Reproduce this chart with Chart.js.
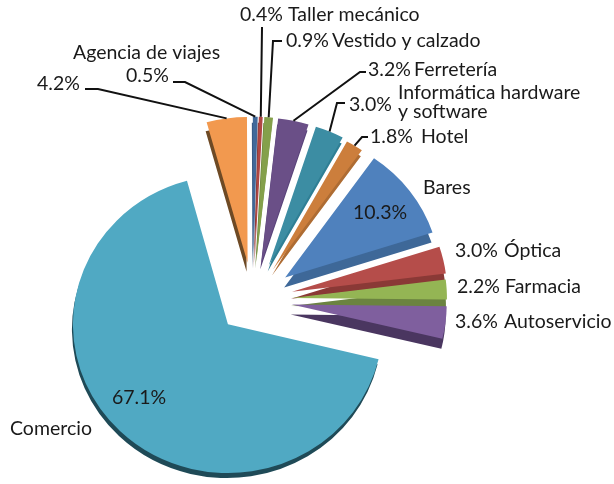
<!DOCTYPE html>
<html>
<head>
<meta charset="utf-8">
<style>
  html, body { margin: 0; padding: 0; background: #fff; }
  canvas { display: block; }
</style>
<script src="https://cdn.jsdelivr.net/npm/chart.js@4"></script>
</head>
<body>
<canvas id="pie" width="614" height="484"></canvas>
<script>
// clockwise from the right edge of Comercio
const categories = ['Comercio', '', 'Agencia de viajes', 'Taller mecánico', 'Vestido y calzado', 'Ferretería',
  'Informática hardware', 'Hotel', 'Bares', 'Óptica', 'Farmacia', 'Autoservicio'];
const shares = [67.1, 4.2, 0.5, 0.4, 0.9, 3.2, 3.0, 1.8, 10.3, 3.0, 2.2, 3.6];

const faceColors = ['#50a9c3', '#f2994f', '#41699a', '#b04643', '#84a04b', '#6a4f87',
  '#3c8da3', '#cc7e3c', '#4f81bd', '#b54d4a', '#94b554', '#7f5f9e'];
const sideColors = ['#1f4a57', '#6e4a25', '#375a85', '#8a3936', '#6b833e', '#59437a',
  '#2f7f95', '#ae6c33', '#3e6898', '#8a3936', '#6b8340', '#4a3660'];
// per slice layout: pull-out in px, thickness in px, vertical squash
const sliceShifts = [36, 40, 40, 40, 40, 40, 40, 38, 40, 40, 39, 39];
const sliceDepths = [5, 9, 6, 6, 6, 6, 6, 6, 10, 7, 8, 10];
const sliceTilts = [0.96, 0.94, 0.94, 0.94, 0.94, 0.94, 0.94, 0.94, 0.94, 0.94, 0.94, 0.94];

const pieRadius = 155;
const baseTilt = 0.94;
const textColor = '#1a1a1a';

// text: [string, x, y]
const textBits = [
  [shares[3].toFixed(1) + '%', 240, 15], [categories[3], 288, 15],
  [shares[4].toFixed(1) + '%', 286, 41], [categories[4], 332, 41],
  [shares[5].toFixed(1) + '%', 368, 70], [categories[5], 414, 70],
  [shares[6].toFixed(1) + '%', 349, 105], [categories[6], 398, 93], ['y software', 398, 112],
  [shares[7].toFixed(1) + '%', 370, 137], [categories[7], 421, 137],
  [categories[8], 423, 188], [shares[8].toFixed(1) + '%', 353, 213],
  [shares[9].toFixed(1) + '%', 455, 251], [categories[9], 504, 251],
  [shares[10].toFixed(1) + '%', 457, 287], [categories[10], 505, 287],
  [shares[11].toFixed(1) + '%', 455, 322], [categories[11], 504, 322],
  [shares[0].toFixed(1) + '%', 112, 398], [categories[0], 10, 429],
  [categories[2], 73, 53], [shares[2].toFixed(1) + '%', 126, 76],
  [shares[1].toFixed(1) + '%', 37, 84]
];

// slice index: leader start and elbow, the far end comes from the arc itself
const leaders = {
  1: [[85, 89], [98, 89]],
  2: [[173, 82], [185, 82]],
  3: [[262, 27], [262, 28]],
  4: [[282, 41], [273, 41]],
  5: [[366, 72], [360, 72]],
  6: [[345, 103], [337, 103]],
  7: [[368, 137], [362, 137]]
};

function squash(ctx, arc, i) {
  ctx.translate(0, arc.y);
  ctx.scale(1, sliceTilts[i]);
  ctx.translate(0, -arc.y);
}

const pie3d = {
  id: 'pie3d',
  afterDatasetsUpdate(chart) {
    // the offset option also trims small slices, so explode them by hand
    chart.getDatasetMeta(0).data.forEach((arc, i) => {
      const mid = (arc.startAngle + arc.endAngle) / 2;
      arc.x += Math.cos(mid) * sliceShifts[i];
      arc.y += Math.sin(mid) * sliceShifts[i] * baseTilt;
    });
  },
  beforeDatasetDraw(chart) {
    const ctx = chart.ctx;
    const arcs = chart.getDatasetMeta(0).data;
    // darker copies underneath give the thickness
    arcs.forEach((arc, i) => {
      const saved = arc.options;
      arc.options = Object.assign({}, saved, { backgroundColor: sideColors[i] });
      ctx.save();
      ctx.translate(-1, sliceDepths[i]);
      squash(ctx, arc, i);
      arc.draw(ctx);
      ctx.restore();
      arc.options = saved;
    });
    arcs.forEach((arc, i) => {
      ctx.save();
      squash(ctx, arc, i);
      arc.draw(ctx);
      ctx.restore();
    });
    return false;
  },
  afterDatasetsDraw(chart) {
    const ctx = chart.ctx;
    const arcs = chart.getDatasetMeta(0).data;
    ctx.save();
    ctx.strokeStyle = '#111';
    ctx.lineWidth = 2;
    Object.keys(leaders).forEach(k => {
      const arc = arcs[k];
      const mid = (arc.startAngle + arc.endAngle) / 2;
      const ex = arc.x + Math.cos(mid) * pieRadius;
      const ey = arc.y + Math.sin(mid) * pieRadius * sliceTilts[k];
      ctx.beginPath();
      ctx.moveTo(leaders[k][0][0], leaders[k][0][1]);
      ctx.lineTo(leaders[k][1][0], leaders[k][1][1]);
      ctx.lineTo(ex, ey);
      ctx.stroke();
    });
    ctx.fillStyle = textColor;
    ctx.font = '19.5px Lato';
    ctx.textAlign = 'left';
    ctx.textBaseline = 'middle';
    textBits.forEach(t => ctx.fillText(t[0], t[1], t[2]));
    ctx.restore();
  }
};

new Chart(document.getElementById('pie').getContext('2d'), {
  type: 'pie',
  data: {
    labels: categories,
    datasets: [{
      data: shares,
      backgroundColor: faceColors,
      borderWidth: 0,
      clip: false
    }]
  },
  options: {
    responsive: false,
    animation: false,
    rotation: 103.6,
    radius: pieRadius,
    layout: { padding: { left: 0, right: 108, top: 116, bottom: 0 } },
    plugins: { legend: { display: false }, tooltip: { enabled: false }, title: { display: false } }
  },
  plugins: [pie3d]
});
</script>
</body>
</html>
